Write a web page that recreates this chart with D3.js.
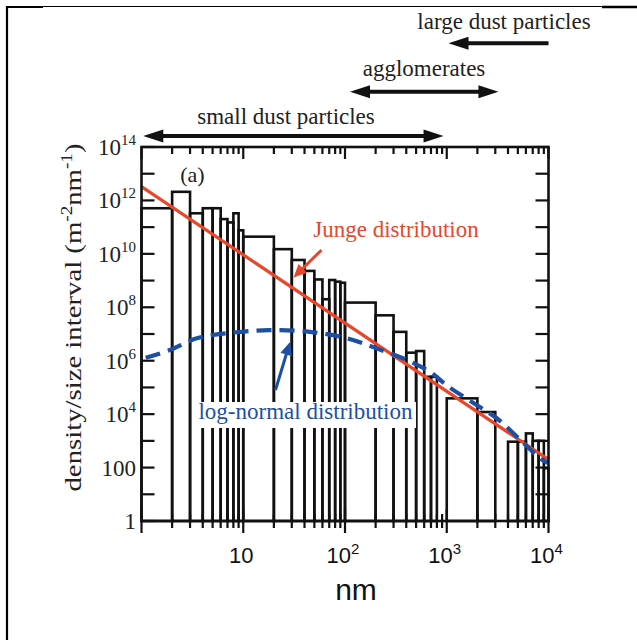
<!DOCTYPE html>
<html><head><meta charset="utf-8">
<script src="https://cdn.jsdelivr.net/npm/d3@7"></script>
<style>html,body{margin:0;padding:0;background:#fff;} svg{display:block;}</style>
</head><body>
<svg id="chart" width="637" height="640"></svg>
<script>
// ---- data ----
const binEdges = [1,2,3,4,5,6,7,8,9,10,20,30,40,50,60,70,80,90,100,200,300,400,500,600,700,800,900,1000,2000,3000,4000,5000,6000,7000,8000,9000,10000];
const binValues = [5.1e11,2.1e12,3.3e11,5.1e11,5.1e11,2.0e11,1.5e11,3.3e11,7.6e10,
                   4.4e10,1.5e10,5.9e9,2.3e9,1.1e9,2.0e8,1.05e9,9.1e8,8.3e8,
                   1.5e8,5.0e7,1.2e7,2.0e6,2.3e6,2.5e5,2.5e5,null,null,
                   3.9e4,1.2e4,null,930,930,1900,1000,1000,95];
const jungeX = [1, 10000];
const jungeY = [3.3e12, 2.0e2];
const logNormalX = [1.1, 1.9, 3.5, 7.4, 18, 45, 104, 204, 405, 686, 1000, 1830, 3100, 5300, 8300, 9800];
const logNormalY = [1.3e6, 2.5e6, 6.9e6, 1.1e7, 1.4e7, 1.2e7, 7.0e6, 2.9e6, 1.07e6, 3.8e5, 1.2e5, 2.6e4, 7.0e3, 1.07e3, 2.2e2, 1.5e2];
const xTickValues = [10, 100, 1000, 10000];
const xTickBase = ["10", "10", "10", "10"];
const xTickExp = ["", "2", "3", "4"];
const yTickValues = [1, 1e2, 1e4, 1e6, 1e8, 1e10, 1e12, 1e14];
const yTickBase = ["1", "100", "10", "10", "10", "10", "10", "10"];
const yTickExp = ["", "", "4", "6", "8", "10", "12", "14"];
const rangeNames = ["small dust particles", "agglomerates", "large dust particles"];
const rangeFrom = [1.04, 112, 1040];
const rangeTo = [930, 3220, 10000];

// ---- layout ----
const M = {left:141.5, right:548.5, top:147, bottom:521};
const serif = "'Liberation Serif','Times New Roman',serif";
const sans = "'Liberation Sans',Arial,sans-serif";
const RED = "#e8472b", BLUE = "#1d4fa3";
const svg = d3.select('#chart');
const x = d3.scaleLog().domain([1, 1e4]).range([M.left, M.right]);
const y = d3.scaleLog().domain([1, 1e14]).range([M.bottom, M.top]);

// outer border pieces
svg.append('line').attr('x1',7).attr('y1',6).attr('x2',7).attr('y2',640).attr('stroke','#000').attr('stroke-width',2.2);
svg.append('line').attr('x1',7).attr('y1',6.5).attr('x2',637).attr('y2',6.5).attr('stroke','#000').attr('stroke-width',1.2);
svg.append('line').attr('x1',7).attr('y1',7).attr('x2',43).attr('y2',7).attr('stroke','#000').attr('stroke-width',2.2);
svg.append('line').attr('x1',602).attr('y1',7).attr('x2',637).attr('y2',7).attr('stroke','#000').attr('stroke-width',2.4);

// bars
const bins = binValues.map((v,i)=>({lo:binEdges[i], hi:binEdges[i+1], v})).filter(d=>d.v!=null);
svg.append('g').selectAll('rect').data(bins).join('rect')
  .attr('x', d=>x(d.lo)).attr('width', d=>x(d.hi)-x(d.lo))
  .attr('y', d=>y(d.v)).attr('height', d=>y(1)-y(d.v))
  .attr('fill','none').attr('stroke','#111').attr('stroke-width',2.6);

// ticks
const tg = svg.append('g').attr('stroke','#111').attr('stroke-width',2.2);
const xMajor = [1,10,100,1000,10000];
const xMinor = [];
[1,10,100,1000].forEach(d=>{ for(let k=2;k<=9;k++) xMinor.push(k*d); });
xMajor.forEach(v=>{
  tg.append('line').attr('x1',x(v)).attr('x2',x(v)).attr('y1',M.top).attr('y2',M.top+12);
  tg.append('line').attr('x1',x(v)).attr('x2',x(v)).attr('y1',M.bottom-12).attr('y2',M.bottom+12);
});
xMinor.forEach(v=>{
  tg.append('line').attr('x1',x(v)).attr('x2',x(v)).attr('y1',M.top).attr('y2',M.top+7);
  tg.append('line').attr('x1',x(v)).attr('x2',x(v)).attr('y1',M.bottom-7).attr('y2',M.bottom+7);
});
for(let e=0;e<=14;e++){
  const yy = y(Math.pow(10,e));
  tg.append('line').attr('x1',M.left).attr('x2',M.left+13).attr('y1',yy).attr('y2',yy);
  tg.append('line').attr('x1',M.right-13).attr('x2',M.right).attr('y1',yy).attr('y2',yy);
}

// Junge line
svg.append('path').datum(jungeX.map((v,i)=>[v,jungeY[i]]))
  .attr('d', d3.line().x(d=>x(d[0])).y(d=>y(d[1])))
  .attr('fill','none').attr('stroke',RED).attr('stroke-width',3.2);

// log-normal curve
svg.append('path').datum(logNormalX.map((v,i)=>[v,logNormalY[i]]))
  .attr('d', d3.line().curve(d3.curveCatmullRom).x(d=>x(d[0])).y(d=>y(d[1])))
  .attr('fill','none').attr('stroke',BLUE).attr('stroke-width',4.2).attr('stroke-dasharray','15,8');

// frame
svg.append('rect').attr('x',M.left).attr('y',M.top).attr('width',M.right-M.left).attr('height',M.bottom-M.top)
  .attr('fill','none').attr('stroke','#111').attr('stroke-width',2.6);

// x tick labels
xTickValues.forEach((v,i)=>{
  const t = svg.append('text').attr('x', x(v)-2).attr('y', 563).attr('text-anchor','middle')
    .attr('font-family',sans).attr('font-size',22).attr('fill','#111');
  t.append('tspan').text(xTickBase[i]);
  if (xTickExp[i]) t.append('tspan').attr('dy',-9).attr('font-size',15).text(xTickExp[i]);
});
svg.append('text').attr('x',356).attr('y',600).attr('text-anchor','middle')
  .attr('font-family',sans).attr('font-size',30).attr('fill','#111').text('nm');

// y tick labels
yTickValues.forEach((v,i)=>{
  const t = svg.append('text').attr('x', 136).attr('y', y(v)+8).attr('text-anchor','end')
    .attr('font-family',serif).attr('font-size',23).attr('fill','#222');
  t.append('tspan').text(yTickBase[i]);
  if (yTickExp[i]) t.append('tspan').attr('dy',-10).attr('font-size',15).text(yTickExp[i]);
});

// y axis title
const yt = svg.append('text').attr('transform','translate(81,317.5) rotate(-90)').attr('text-anchor','middle')
  .attr('font-family',serif).attr('font-size',24).attr('fill','#222')
  .attr('textLength',348).attr('lengthAdjust','spacingAndGlyphs');
yt.append('tspan').text('density/size interval (m');
yt.append('tspan').attr('dy',-9).attr('font-size',16).text('-2');
yt.append('tspan').attr('dy',9).text('nm');
yt.append('tspan').attr('dy',-9).attr('font-size',16).text('-1');
yt.append('tspan').attr('dy',9).text(')');

// arrow helper
function arrowHead(g, tx, ty, ang, len, hw, color){
  const c = Math.cos(ang), s = Math.sin(ang);
  const bx = tx - c*len, by = ty - s*len;
  const pts = [[tx,ty],[bx - s*hw, by + c*hw],[bx + s*hw, by - c*hw]];
  g.append('polygon').attr('points', pts.map(p=>p.join(',')).join(' ')).attr('fill',color);
}
function arrow(x1,y1,x2,y2,opt){
  const g = svg.append('g');
  const ang = Math.atan2(y2-y1, x2-x1);
  const len = opt.len, hw = opt.hw;
  let sx = x1, sy = y1, ex = x2, ey = y2;
  if (opt.end){ ex = x2 - Math.cos(ang)*len*0.8; ey = y2 - Math.sin(ang)*len*0.8; }
  if (opt.start){ sx = x1 + Math.cos(ang)*len*0.8; sy = y1 + Math.sin(ang)*len*0.8; }
  g.append('line').attr('x1',sx).attr('y1',sy).attr('x2',ex).attr('y2',ey)
    .attr('stroke',opt.color).attr('stroke-width',opt.w);
  if (opt.end) arrowHead(g, x2, y2, ang, len, hw, opt.color);
  if (opt.start) arrowHead(g, x1, y1, ang+Math.PI, len, hw, opt.color);
}

// size ranges above plot
const rangeY = [136, 91.7, 43.3];
rangeNames.forEach((n,i)=>{
  const x1 = x(rangeFrom[i]), x2 = x(rangeTo[i]);
  arrow(x1, rangeY[i], x2, rangeY[i], {len:20, hw:6.5, w:4, color:'#111', start:true, end:i<2});
});
svg.append('text').attr('x',286).attr('y',123.5).attr('text-anchor','middle').attr('font-family',serif).attr('font-size',23).attr('fill','#222').text(rangeNames[0]);
svg.append('text').attr('x',424).attr('y',75.5).attr('text-anchor','middle').attr('font-family',serif).attr('font-size',23).attr('fill','#222').text(rangeNames[1]);
svg.append('text').attr('x',504).attr('y',29).attr('text-anchor','middle').attr('font-family',serif).attr('font-size',23).attr('fill','#222').text(rangeNames[2]);

// panel label
svg.append('text').attr('x',192.5).attr('y',181.5).attr('text-anchor','middle').attr('font-family',serif).attr('font-size',22).attr('fill','#222').text('(a)');

// Junge annotation
svg.append('text').attr('x',396).attr('y',236.5).attr('text-anchor','middle').attr('font-family',serif).attr('font-size',23).attr('fill',RED).text('Junge distribution');
arrow(321.5, 250, 293.5, 277.5, {len:13, hw:6, w:3, color:RED, end:true});

// log-normal annotation
const lnText = svg.append('text').attr('x',305.5).attr('y',419).attr('text-anchor','middle').attr('font-family',serif).attr('font-size',23).attr('fill',BLUE).text('log-normal distribution');
const bb = lnText.node().getBBox();
svg.insert('rect', () => lnText.node()).attr('x',bb.x-3).attr('y',402).attr('width',bb.width+6).attr('height',26).attr('fill','#fff');
arrow(275.5, 390, 290, 342, {len:13, hw:6, w:3, color:BLUE, end:true});
</script>
</body></html>
